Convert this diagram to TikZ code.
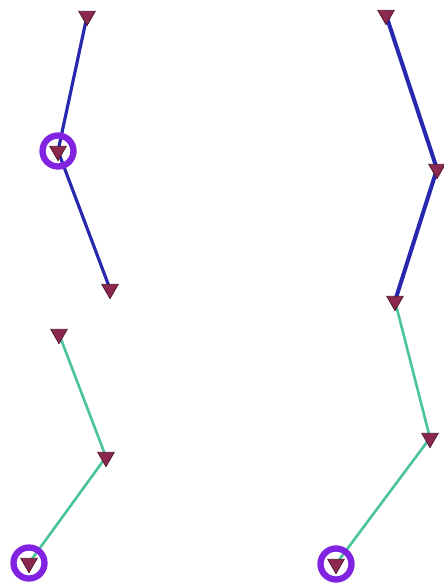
\documentclass[tikz,border=0pt]{standalone}
\usepackage{xcolor}
\usetikzlibrary{shapes.geometric, backgrounds}

\definecolor{wireblue}{RGB}{40,40,175}
\definecolor{wireteal}{RGB}{75,195,155}
\definecolor{pinfill}{RGB}{140,40,80}
\definecolor{ringviolet}{RGB}{130,35,225}

\begin{document}
\begin{tikzpicture}[x=0.02cm, y=-0.02cm,
    pin/.style={regular polygon, regular polygon sides=3, shape border rotate=180, draw=pinfill!60!black, fill=pinfill, line width=0.5pt, inner sep=0pt, minimum size=0.38cm},
    ring/.style={circle, draw=ringviolet, line width=3.6pt, inner sep=0pt, minimum size=0.62cm},
    bluewire/.style={draw=wireblue, line width=1.8pt},
    tealwire/.style={draw=wireteal, line width=1.5pt}]
 			\useasboundingbox (0,0) rectangle (443,585);
 			% upper left chain
 			\node (ul1) [pin] at (87,16) {};
 			\node (ul2) [pin] at (58,151) {};
 			\node (ul3) [pin] at (110,289) {};
 			% upper right chain
 			\node (ur1) [pin] at (386,15) {};
 			\node (ur2) [pin] at (437,169) {};
 			\node (ur3) [pin] at (395,301) {};
 			% lower left chain
 			\node (ll1) [pin] at (59,334) {};
 			\node (ll2) [pin] at (106,457) {};
 			\node (ll3) [pin] at (29,563) {};
 			% lower right chain
 			\node (lr2) [pin] at (430,438) {};
 			\node (lr3) [pin] at (336,564) {};
 			
 			\node (ring1) [ring] at (ul2) {};
 			\node (ring2) [ring] at (ll3) {};
 			\node (ring3) [ring] at (lr3) {};
 			
 			\begin{scope}[on background layer]
 			\draw[bluewire] (ul1.center) -- (ul2.center) -- (ul3.center);
 			\draw[bluewire, line width=2.3pt] (ur1.center) -- (ur2.center) -- (ur3.center);
 			\draw[tealwire] (ll1.center) -- (ll2.center) -- (ll3.center);
 			\draw[tealwire] (ur3.center) -- (lr2.center) -- (lr3.center);
 			\end{scope}
 		\end{tikzpicture}
\end{document}
